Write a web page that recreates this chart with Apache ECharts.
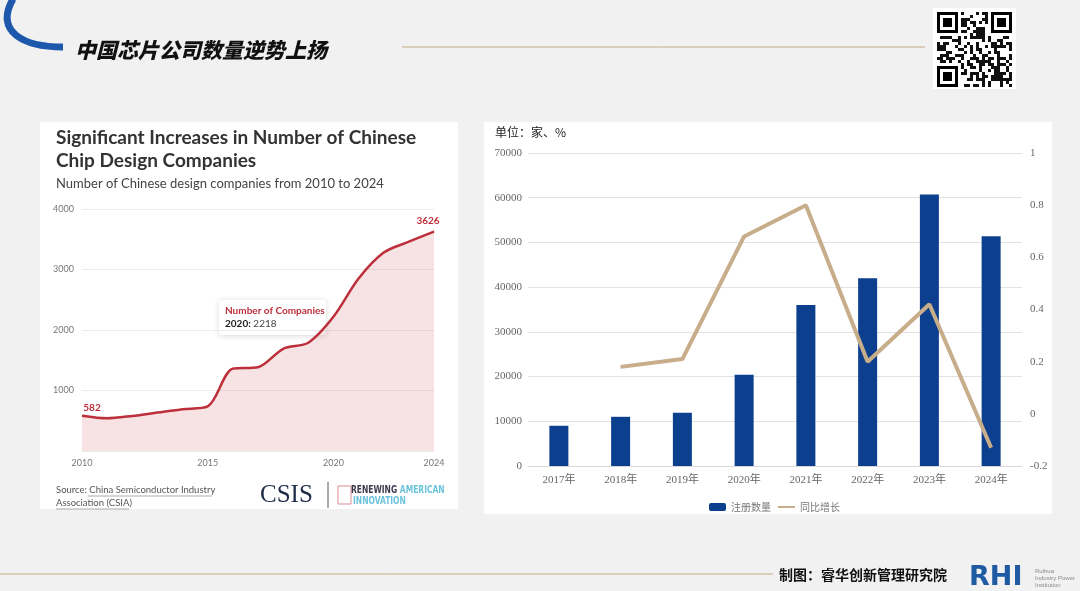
<!DOCTYPE html>
<html>
<head>
<meta charset="utf-8">
<script src="https://cdn.jsdelivr.net/npm/echarts@6/dist/echarts.min.js"></script>
<style>
  html, body { margin: 0; padding: 0; background: #f1f1f1; }
  #main { width: 1080px; height: 591px; }
</style>
</head>
<body>
<div id="main"></div>
<script>
// left chart: CSIA design companies
var csiaYears = [2010, 2011, 2012, 2013, 2014, 2015, 2016, 2017, 2018, 2019, 2020, 2021, 2022, 2023, 2024]
var csiaCount = [582, 540, 580, 635, 690, 736, 1362, 1385, 1690, 1790, 2218, 2850, 3280, 3460, 3626]
var csiaTicks = [2010, 2015, 2020, 2024]

// right chart: 注册数量 / 同比增长
var regYears = ['2017年', '2018年', '2019年', '2020年', '2021年', '2022年', '2023年', '2024年']
var regCount = [9000, 11000, 11900, 20400, 36000, 42000, 60700, 51400]
var regGrowth = [null, 0.18, 0.21, 0.68, 0.8, 0.2, 0.42, -0.13]

var red = '#bd2f3a'
var tan = '#c8ad8b'
var navy = '#0c3f8e'
var serif = '"Liberation Serif", "Noto Sans CJK SC", serif'
var cjk = '"Noto Sans CJK SC", sans-serif'
var latin = 'Lato, "Open Sans", sans-serif'
var narrow = 'bold 10.5px "DejaVu Sans Condensed", "Liberation Sans Narrow", sans-serif'

var csiaData = csiaYears.map(function(y, i) { return [y, csiaCount[i]] })
var tipIdx = csiaYears.indexOf(2020)

// fake qr code pattern (decoration only)
function qrCells() {
  var out = []
  var n = 25, s = 3, x0 = 937, y0 = 12
  function finder(cx, cy) {
    out.push({ type: 'rect', shape: { x: x0 + cx * s, y: y0 + cy * s, width: 7 * s, height: 7 * s }, style: { fill: '#000' } })
    out.push({ type: 'rect', shape: { x: x0 + (cx + 1) * s, y: y0 + (cy + 1) * s, width: 5 * s, height: 5 * s }, style: { fill: '#fff' } })
    out.push({ type: 'rect', shape: { x: x0 + (cx + 2) * s, y: y0 + (cy + 2) * s, width: 3 * s, height: 3 * s }, style: { fill: '#000' } })
  }
  for (var i = 0; i < n; i++) {
    for (var j = 0; j < n; j++) {
      if ((i < 8 && j < 8) || (i < 8 && j > n - 9) || (i > n - 9 && j < 8)) continue
      var h = ((i + 1) * 73856093 ^ (j + 3) * 19349663 ^ (i * j + 7) * 83492791) >>> 0
      if (h % 100 < 48) {
        out.push({ type: 'rect', shape: { x: x0 + j * s, y: y0 + i * s, width: s, height: s }, style: { fill: '#111' } })
      }
    }
  }
  finder(0, 0); finder(n - 7, 0); finder(0, n - 7)
  return out
}

var myChart = echarts.init(document.getElementById('main'))

var option = {
  backgroundColor: '#f1f1f1',
  animation: false,
  title: [
    {
      text: 'Significant Increases in Number of Chinese\nChip Design Companies',
      left: 56, top: 126, padding: 0,
      textStyle: { fontFamily: latin, fontSize: 19, fontWeight: 'bold', color: '#333', lineHeight: 23 }
    },
    {
      text: 'Number of Chinese design companies from 2010 to 2024',
      left: 56, top: 177, padding: 0,
      textStyle: { fontFamily: latin, fontSize: 13, fontWeight: 'normal', color: '#444' }
    },
    {
      text: '单位：家、%',
      left: 495, top: 126, padding: 0,
      textStyle: { fontFamily: cjk, fontSize: 12, fontWeight: 'normal', color: '#222' }
    }
  ],
  legend: {
    left: 704, top: 497,
    itemWidth: 17, itemHeight: 8, itemGap: 6,
    textStyle: { fontFamily: cjk, fontSize: 10, color: '#777' },
    data: ['注册数量', { name: '同比增长', itemStyle: { opacity: 0 } }]
  },
  grid: [
    { left: 82, top: 209, width: 352, height: 242 },
    { left: 528, top: 153, width: 494, height: 313 }
  ],
  xAxis: [
    {
      type: 'value', gridIndex: 0, min: 2010, max: 2024,
      axisLine: { show: false }, axisTick: { show: false }, splitLine: { show: false },
      axisLabel: {
        customValues: csiaTicks,
        formatter: function(v) { return String(v) },
        color: '#777', fontSize: 9, fontFamily: latin, margin: 8
      }
    },
    {
      type: 'category', gridIndex: 1, data: regYears,
      axisLine: { lineStyle: { color: '#d9d9d9' } },
      axisTick: { show: false },
      axisLabel: { color: '#666', fontSize: 11, fontFamily: serif, margin: 9 }
    }
  ],
  yAxis: [
    {
      type: 'value', gridIndex: 0, min: 0, max: 4000, interval: 1000,
      axisLine: { show: false }, axisTick: { show: false },
      splitLine: { lineStyle: { color: '#ececec' } },
      axisLabel: {
        formatter: function(v) { return v === 0 ? '' : String(v) },
        color: '#777', fontSize: 9, fontFamily: latin, margin: 8
      }
    },
    {
      type: 'value', gridIndex: 1, min: 0, max: 70000, interval: 10000,
      axisLine: { show: false }, axisTick: { show: false },
      splitLine: { lineStyle: { color: '#e2e2e2' } },
      axisLabel: {
        formatter: function(v) { return String(v) },
        color: '#666', fontSize: 11, fontFamily: serif, margin: 6
      }
    },
    {
      type: 'value', gridIndex: 1, position: 'right', min: -0.2, max: 1, interval: 0.2,
      axisLine: { show: false }, axisTick: { show: false }, splitLine: { show: false },
      axisLabel: {
        formatter: function(v) { return String(+v.toFixed(1)) },
        color: '#666', fontSize: 11, fontFamily: serif, margin: 8
      }
    }
  ],
  series: [
    {
      name: 'Number of Companies',
      type: 'line', xAxisIndex: 0, yAxisIndex: 0,
      data: csiaData,
      smooth: 0.3,
      showSymbol: true, symbolSize: 0.01,
      lineStyle: { color: red, width: 2.5 },
      itemStyle: { color: red },
      areaStyle: { color: 'rgba(200,55,65,0.2)' },
      label: {
        show: true, position: 'top', fontFamily: latin, fontSize: 10, fontWeight: 'bold', color: red,
        formatter: function(p) {
          return (p.dataIndex === 0 || p.dataIndex === csiaData.length - 1) ? String(p.value[1]) : ''
        }
      },
      labelLayout: function(p) {
        if (p.dataIndex === 0) return { dx: 10, dy: 3 }
        return { dx: -6, dy: 0 }
      }
    },
    {
      name: '注册数量',
      type: 'bar', xAxisIndex: 1, yAxisIndex: 1,
      data: regCount, barWidth: 19,
      itemStyle: { color: navy }
    },
    {
      name: '同比增长',
      type: 'line', xAxisIndex: 1, yAxisIndex: 2,
      data: regGrowth, symbol: 'circle', showSymbol: false,
      lineStyle: { color: tan, width: 4 },
      itemStyle: { color: tan }
    }
  ],
  graphic: [
    // panels
    { type: 'rect', z: -10, shape: { x: 40, y: 122, width: 418, height: 387 }, style: { fill: '#fff' } },
    { type: 'rect', z: -10, shape: { x: 484, y: 122, width: 568, height: 392 }, style: { fill: '#fff' } },
    // slide header
    {
      type: 'bezierCurve',
      shape: { x1: 13, y1: -1, cpx1: -6, cpy1: 32, cpx2: 24, cpy2: 47, x2: 63, y2: 47 },
      style: { stroke: '#1d58ad', lineWidth: 7, fill: null }
    },
    {
      type: 'text', x: 75, y: 50,
      style: { text: '中国芯片公司数量逆势上扬', font: 'italic 900 21px "Noto Sans CJK SC"', fill: '#111', verticalAlign: 'middle' }
    },
    { type: 'line', shape: { x1: 402, y1: 47, x2: 925, y2: 47 }, style: { stroke: '#c4aa88', lineWidth: 1 } },
    { type: 'rect', shape: { x: 933, y: 8, width: 83, height: 81 }, style: { fill: '#fff' } },
    { type: 'group', children: qrCells() },
    // tooltip-like box on left chart
    {
      type: 'rect', shape: { x: 219, y: 300, width: 107, height: 35, r: 3 },
      style: { fill: '#fff', shadowBlur: 6, shadowColor: 'rgba(0,0,0,0.15)', shadowOffsetY: 1 }
    },
    {
      type: 'text', x: 225, y: 311,
      style: { text: 'Number of Companies', font: 'bold 10px Lato', fill: red, verticalAlign: 'middle' }
    },
    {
      type: 'text', x: 225, y: 324,
      style: {
        text: '{b|' + csiaYears[tipIdx] + ':} ' + csiaCount[tipIdx],
        font: '10px Lato', fill: '#444', verticalAlign: 'middle',
        rich: { b: { fontFamily: 'Lato', fontSize: 10, fontWeight: 'bold', fill: '#222' } }
      }
    },
    // source + logos
    {
      type: 'text', x: 56, y: 490,
      style: { text: 'Source: China Semiconductor Industry', font: '9.5px Lato', fill: '#555', verticalAlign: 'middle' }
    },
    {
      type: 'text', x: 56, y: 503,
      style: { text: 'Association (CSIA)', font: '9.5px Lato', fill: '#555', verticalAlign: 'middle' }
    },
    { type: 'line', shape: { x1: 88, y1: 496, x2: 212, y2: 496 }, style: { stroke: '#888', lineWidth: 0.7 } },
    { type: 'line', shape: { x1: 56, y1: 509, x2: 129, y2: 509 }, style: { stroke: '#888', lineWidth: 0.7 } },
    {
      type: 'text', x: 260, y: 495,
      style: { text: 'CSIS', font: '25px "Liberation Serif"', fill: '#1e2a48', verticalAlign: 'middle' }
    },
    { type: 'line', shape: { x1: 328, y1: 482, x2: 328, y2: 508 }, style: { stroke: '#555', lineWidth: 1 } },
    { type: 'rect', shape: { x: 338, y: 486, width: 13, height: 18 }, style: { fill: null, stroke: '#d98a96', lineWidth: 1 } },
    {
      type: 'text', x: 351, y: 490, scaleX: 0.8,
      style: {
        text: '{a|RENEWING} {b|AMERICAN}', verticalAlign: 'middle',
        rich: {
          a: { font: narrow, fill: '#3b3b4f' },
          b: { font: narrow, fill: '#6cc3dc' }
        }
      }
    },
    {
      type: 'text', x: 353, y: 501, scaleX: 0.8,
      style: { text: 'INNOVATION', font: narrow, fill: '#6cc3dc', verticalAlign: 'middle' }
    },
    // slide footer
    { type: 'line', shape: { x1: 0, y1: 574, x2: 773, y2: 574 }, style: { stroke: '#c4aa88', lineWidth: 1 } },
    {
      type: 'text', x: 779, y: 575,
      style: { text: '制图：睿华创新管理研究院', font: 'bold 14px "Noto Sans CJK SC"', fill: '#111', verticalAlign: 'middle' }
    },
    {
      type: 'text', x: 969, y: 578,
      style: { text: 'RHI', font: '900 27px "DejaVu Sans", sans-serif', fill: '#1f5ba3', verticalAlign: 'middle' }
    },
    {
      type: 'text', x: 1035, y: 578,
      style: { text: 'Ruihua\nIndustry Power\nInstitution', font: '6px "Liberation Sans"', fill: '#8a8a8a', verticalAlign: 'middle', lineHeight: 7 }
    }
  ]
}

myChart.setOption(option, true)
window.addEventListener('resize', () => {
  myChart.resize()
})
</script>
</body>
</html>
